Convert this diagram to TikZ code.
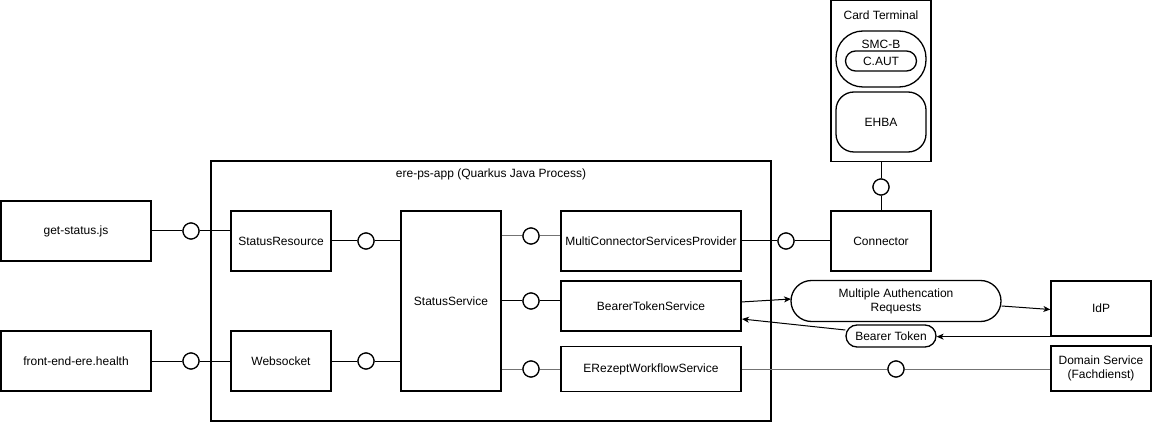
\documentclass[tikz,border=0pt]{standalone}
\usepackage{fontspec}
\setmainfont{Liberation Sans}
\usetikzlibrary{arrows.meta,shapes.misc}
\begin{document}
\begin{tikzpicture}[x=1pt,y=-1pt,
  font=\fontsize{12}{14}\selectfont,
  box/.style={draw,line width=1.3pt,rectangle,inner sep=0pt,align=center},
  iface/.style={draw,circle,fill=white,line width=1.2pt,minimum size=16pt,inner sep=0pt},
  wire/.style={line width=1pt},
  gwire/.style={line width=1pt,draw=black!55},
  pill/.style={draw,line width=1.3pt,rounded rectangle,inner sep=0pt,align=center},
  arr/.style={line width=1pt,-{Stealth[length=7pt,width=6pt,inset=2pt]}}
]
\useasboundingbox (0,0) rectangle (1152,422);

% container
\node[box,minimum width=560pt,minimum height=260pt] (app) at (491,291) {};
\node[anchor=center] (apptitle) at (491,174) {ere-ps-app (Quarkus Java Process)};

% left clients
\node[box,minimum width=150pt,minimum height=60pt] (gs) at (76,231) {get-status.js};
\node[box,minimum width=150pt,minimum height=60pt] (fe) at (76,361) {front-end-ere.health};

% inner boxes
\node[box,minimum width=100pt,minimum height=60pt] (sr) at (281,241) {StatusResource};
\node[box,minimum width=100pt,minimum height=60pt] (ws) at (281,361) {Websocket};
\node[box,minimum width=100pt,minimum height=180pt] (ss) at (451,301) {StatusService};
\node[box,minimum width=180pt,minimum height=60pt] (mc) at (651,241) {MultiConnectorServicesProvider};
\node[box,minimum width=180pt,minimum height=50pt] (bt) at (651,306) {BearerTokenService};
\node[box,minimum width=180pt,minimum height=45pt] (er) at (651,369) {ERezeptWorkflowService};

% right side
\node[box,minimum width=100pt,minimum height=60pt] (con) at (881,241) {Connector};
\node[box,minimum width=100pt,minimum height=161pt] (ct) at (881,81) {};
\node (cttitle) at (881,15) {Card Terminal};
\draw[line width=1.3pt,rounded corners=27pt] (836,31) rectangle (926,87);
\node (smcb) at (881,44) {SMC-B};
\node[pill,minimum width=71pt,minimum height=20pt] (caut) at (881,61) {C.AUT};
\node[draw,line width=1.3pt,rounded corners=18pt,minimum width=90pt,minimum height=60pt,inner sep=0pt] (ehba) at (881,122) {EHBA};

\node[box,minimum width=100pt,minimum height=55pt] (idp) at (1101,308.5) {IdP};
\node[box,minimum width=100pt,minimum height=45pt] (ds) at (1101,368.5) {Domain Service\\(Fachdienst)};

\node[pill,minimum width=210pt,minimum height=41pt] (mar) at (896,301) {Multiple Authencation\\Requests};
\node[pill,minimum width=90pt,minimum height=22pt] (btk) at (891,336) {Bearer Token};

% interfaces
\node[iface] (i1) at (191,231) {};
\node[iface] (i2) at (191,361) {};
\node[iface] (i3) at (366,241) {};
\node[iface] (i4) at (366,361) {};
\node[iface] (i5) at (531,236) {};
\node[iface] (i6) at (531,301) {};
\node[iface] (i7) at (531,369) {};
\node[iface] (i8) at (786,241) {};
\node[iface] (i9) at (896,369) {};
\node[iface] (i10) at (881,187) {};

% wires
\draw[wire] (gs.east |- i1) -- (i1) -- (sr.west |- i1);
\draw[wire] (fe.east |- i2) -- (i2) -- (ws.west |- i2);
\draw[wire] (sr.east |- i3) -- (i3) -- (ss.west |- i3);
\draw[wire] (ws.east |- i4) -- (i4) -- (ss.west |- i4);
\draw[gwire] (ss.east |- i5) -- (i5) -- (mc.west |- i5);
\draw[wire] (ss.east |- i6) -- (i6) -- (bt.west |- i6);
\draw[gwire] (ss.east |- i7) -- (i7) -- (er.west |- i7);
\draw[wire] (mc.east |- i8) -- (i8) -- (con.west |- i8);
\draw[gwire] (er.east |- i9) -- (i9) -- (ds.west |- i9);
\draw[wire] (ct.south) -- (i10) -- (con.north);
\foreach \n in {i1,i2,i3,i4,i5,i6,i7,i8,i9,i10} \node[iface] at (\n) {};

% arrows
\coordinate (btout) at (741,302);
\coordinate (marin) at (791,299);
\draw[arr] (btout) -- (marin);
\draw[arr] ([yshift=-5pt]mar.east) -- ([yshift=-1pt]idp.west);
\draw[arr] (idp.south west) ++(0,0) coordinate (idpo) -- (btk.east |- idpo);
\coordinate (btin) at (742,319);
\draw[arr] (btk.west) ++(0,-6) coordinate (btko) -- (btin);
\end{tikzpicture}
\end{document}
